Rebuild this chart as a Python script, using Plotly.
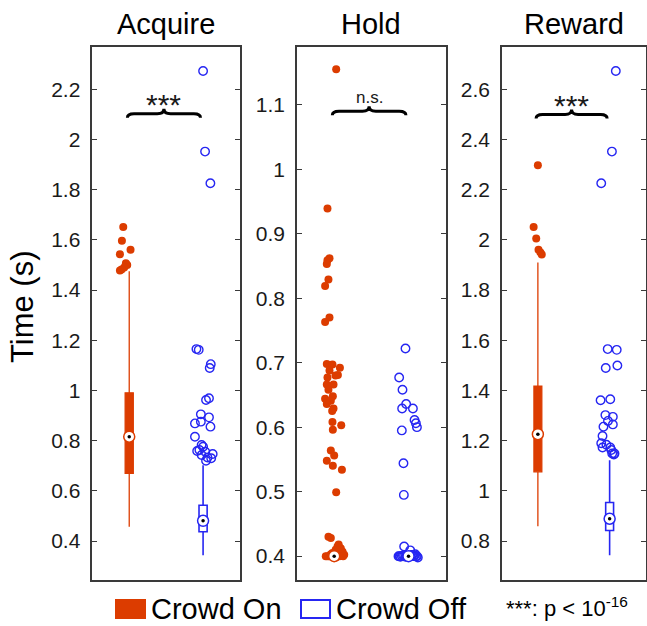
import plotly.graph_objects as go

W, H = 647, 626
ORANGE = "#DC3C00"
BLUE = "#2626F2"
FONT = "Liberation Sans, Arial, sans-serif"

# ---------------- data ----------------
panel_titles = ["Acquire", "Hold", "Reward"]
group_names = ["Crowd On", "Crowd Off"]
y_ranges = [[0.245, 2.37], [0.363, 1.19], [0.645, 2.77]]
y_dticks = [0.2, 0.1, 0.2]

# box statistics: [lower whisker, q1, median, q3, upper whisker]
on_stats = [[0.457, 0.670, 0.816, 0.991, 1.475],
            [0.400, 0.400, 0.400, 0.400, 0.400],
            [0.859, 1.076, 1.226, 1.417, 1.910]]
off_stats = [[0.344, 0.437, 0.481, 0.543, 0.702],
             [0.400, 0.400, 0.400, 0.400, 0.400],
             [0.744, 0.842, 0.889, 0.954, 1.122]]

# outliers (value, horizontal jitter)
acq_on_y = [1.652, 1.597, 1.543, 1.561, 1.507, 1.500, 1.490, 1.482, 1.478]
acq_on_dx = [-0.081, -0.099, -0.126, 0.018, -0.045, -0.027, -0.068, -0.104, -0.126]
acq_off_y = [2.273, 1.952, 1.826, 1.165, 1.162, 1.105, 1.090, 0.969, 0.962, 0.905,
             0.893, 0.876, 0.869, 0.856, 0.816, 0.783, 0.776, 0.763, 0.759, 0.756,
             0.747, 0.743, 0.733, 0.730, 0.720]
acq_off_dx = [0.0, 0.027, 0.099, -0.090, -0.059, 0.104, 0.090, 0.080, 0.040, -0.030,
              0.080, -0.030, -0.110, 0.100, -0.110, -0.020, 0.000, -0.050, -0.080, 0.030,
              0.130, -0.020, 0.060, 0.110, 0.040]

hold_on_y = [1.155, 0.939, 0.862, 0.859, 0.853, 0.829, 0.819, 0.770, 0.763, 0.698,
             0.697, 0.692, 0.688, 0.681, 0.680, 0.677, 0.666, 0.666, 0.658, 0.648,
             0.644, 0.641, 0.636, 0.629, 0.625, 0.608, 0.603, 0.596, 0.564, 0.556,
             0.548, 0.540, 0.534, 0.499, 0.430, 0.428, 0.415, 0.412, 0.407, 0.402,
             0.400, 0.400, 0.401, 0.398, 0.405, 0.410, 0.418, 0.413, 0.404, 0.400,
             0.400, 0.403, 0.409, 0.400]
hold_on_dx = [0.027, -0.090, -0.063, -0.090, -0.099, -0.077, -0.122, -0.063, -0.122, -0.099,
              -0.023, 0.077, -0.063, 0.050, 0.018, -0.090, -0.099, -0.009, -0.077, -0.018,
              -0.122, -0.045, -0.099, -0.009, -0.027, -0.023, 0.095, -0.018, -0.045, 0.000,
              -0.099, -0.018, 0.104, 0.027, -0.077, -0.045, 0.045, 0.090, 0.113, 0.135,
              -0.113, -0.068, 0.090, 0.023, -0.023, 0.020, 0.060, 0.075, 0.100, 0.120,
              -0.090, -0.045, 0.040, 0.070]
hold_off_y = [0.722, 0.677, 0.658, 0.636, 0.629, 0.629, 0.611, 0.606, 0.600, 0.595,
              0.544, 0.495, 0.415, 0.409, 0.400, 0.400, 0.401, 0.400, 0.400, 0.403,
              0.399, 0.402, 0.400, 0.401, 0.399, 0.400, 0.402, 0.400, 0.398, 0.401]
hold_off_dx = [-0.041, -0.126, -0.081, -0.032, -0.086, 0.059, 0.081, 0.099, 0.113, -0.090,
               -0.068, -0.063, -0.059, 0.023, -0.135, -0.090, -0.059, 0.068, 0.113, 0.090,
               -0.110, 0.045, -0.120, -0.075, -0.040, 0.030, 0.055, 0.100, 0.125, 0.080]

rew_on_y = [2.298, 2.052, 2.006, 1.961, 1.950, 1.942]
rew_on_dx = [0.0, -0.059, -0.023, 0.009, 0.036, 0.054]
rew_off_y = [2.673, 2.352, 2.226, 1.565, 1.562, 1.500, 1.490, 1.365, 1.361, 1.302,
             1.295, 1.279, 1.265, 1.256, 1.219, 1.190, 1.184, 1.173, 1.173, 1.163,
             1.149, 1.149, 1.145]
rew_off_dx = [0.086, 0.032, -0.117, -0.027, 0.099, 0.108, -0.054, 0.009, -0.126, -0.059,
              0.045, -0.023, 0.045, -0.086, -0.099, -0.117, -0.045, -0.099, 0.009, 0.023,
              0.036, 0.068, 0.059]

on_out_y = [acq_on_y, hold_on_y, rew_on_y]
on_out_dx = [acq_on_dx, hold_on_dx, rew_on_dx]
off_out_y = [acq_off_y, hold_off_y, rew_off_y]
off_out_dx = [acq_off_dx, hold_off_dx, rew_off_dx]

brace_levels = [2.103, 1.090, 2.500]
sig_labels = ["***", "n.s.", "***"]
footnote = "***: p < 10<sup>-16</sup>"

# ---------------- layout geometry (pixels) ----------------
panel_px = [(92.3, 240.0), (297.0, 445.7), (502.0, 645.5)]
top_px, bot_px = 46.7, 580.0
plot_h = bot_px - top_px


def px_x(p):
    return p / W


def px_y(p):
    return 1 - p / H


fig = go.Figure()
layout = dict(
    width=W, height=H, margin=dict(l=0, r=0, t=0, b=0),
    paper_bgcolor="white", plot_bgcolor="white", showlegend=False,
    font=dict(family=FONT, color="#1a1a1a"),
)
annotations = []
shapes = []

for i in range(3):
    k = "" if i == 0 else str(i + 1)
    xa, ya = "x" + k, "y" + k
    x0p, x1p = panel_px[i]
    layout["xaxis" + k] = dict(
        domain=[px_x(x0p), px_x(x1p)], range=[0.5, 2.5], anchor=ya,
        showline=True, mirror=True, linecolor="#3a3a3a", linewidth=1.5,
        showgrid=False, zeroline=False, showticklabels=False, ticks="",
        fixedrange=True,
    )
    layout["yaxis" + k] = dict(
        domain=[px_y(bot_px), px_y(top_px)], range=y_ranges[i], anchor=xa,
        showline=True, mirror="ticks", linecolor="#3a3a3a", linewidth=1.5,
        ticks="inside", ticklen=5, tickwidth=1, tickcolor="#3a3a3a",
        tick0=0, dtick=y_dticks[i], showgrid=False, zeroline=False,
        tickfont=dict(size=21, family=FONT, color="#1a1a1a"),
        ticklabelstandoff=6,
        fixedrange=True,
    )

    stats_list = [on_stats[i], off_stats[i]]
    for g, st in enumerate(stats_list):
        pos = g + 1
        lo, q1, med, q3, hi = st
        if g == 0:
            fig.add_trace(go.Box(
                x=[pos], lowerfence=[lo], q1=[q1], median=[med], q3=[q3], upperfence=[hi],
                width=0.11, whiskerwidth=0, fillcolor=ORANGE,
                line=dict(color=ORANGE, width=1.3), boxpoints=False,
                xaxis=xa, yaxis=ya, hoverinfo="skip"))
        else:
            fig.add_trace(go.Box(
                x=[pos], lowerfence=[lo], q1=[q1], median=[med], q3=[q3], upperfence=[hi],
                width=0.11, whiskerwidth=0, fillcolor="rgba(255,255,255,1)",
                line=dict(color=BLUE, width=1.6), boxpoints=False,
                xaxis=xa, yaxis=ya, hoverinfo="skip"))

    # outliers
    fig.add_trace(go.Scatter(
        x=[1 + d for d in on_out_dx[i]], y=on_out_y[i], mode="markers",
        marker=dict(symbol="circle", size=8, color=ORANGE, line=dict(width=0)),
        xaxis=xa, yaxis=ya, hoverinfo="skip"))
    fig.add_trace(go.Scatter(
        x=[2 + d for d in off_out_dx[i]], y=off_out_y[i], mode="markers",
        marker=dict(symbol="circle-open", size=8.5, color=BLUE, line=dict(width=1.4)),
        xaxis=xa, yaxis=ya, hoverinfo="skip"))

    # median markers
    for g, (st, col) in enumerate(zip(stats_list, [ORANGE, BLUE])):
        fig.add_trace(go.Scatter(
            x=[g + 1], y=[st[2]], mode="markers",
            marker=dict(symbol="circle", size=11, color="white", line=dict(color=col, width=1.5)),
            xaxis=xa, yaxis=ya, hoverinfo="skip"))
        fig.add_trace(go.Scatter(
            x=[g + 1], y=[st[2]], mode="markers",
            marker=dict(symbol="circle", size=3.5, color="black", line=dict(width=0)),
            xaxis=xa, yaxis=ya, hoverinfo="skip"))

    # significance brace
    ppu = plot_h / (y_ranges[i][1] - y_ranges[i][0])
    yb = brace_levels[i]
    hd = 4.0 / ppu
    td = 5.0 / ppu
    xa1, xa2 = 0.975, 1.965
    xm = (xa1 + xa2) / 2
    a = 0.09
    path = (f"M {xa1},{yb - hd} Q {xa1},{yb} {xa1 + a},{yb} L {xm - a},{yb} "
            f"Q {xm},{yb} {xm},{yb + td} Q {xm},{yb} {xm + a},{yb} "
            f"L {xa2 - a},{yb} Q {xa2},{yb} {xa2},{yb - hd}")
    shapes.append(dict(type="path", path=path, xref=xa, yref=ya,
                       line=dict(color="black", width=3)))
    if sig_labels[i] == "***":
        annotations.append(dict(x=xm, y=yb, xref=xa, yref=ya, text=sig_labels[i],
                                showarrow=False, xanchor="center", yanchor="middle", yshift=9,
                                font=dict(size=30, family=FONT, color="#1a1a1a")))
    else:
        annotations.append(dict(x=xm, y=yb, xref=xa, yref=ya, text=sig_labels[i],
                                showarrow=False, xanchor="center", yanchor="bottom", yshift=2,
                                font=dict(size=17, family=FONT, color="#1a1a1a")))

    # panel title
    annotations.append(dict(x=px_x((x0p + x1p) / 2), y=px_y(24), xref="paper", yref="paper",
                            text=panel_titles[i], showarrow=False,
                            xanchor="center", yanchor="middle",
                            font=dict(size=29, family=FONT, color="black")))

# y axis label
annotations.append(dict(x=px_x(22), y=px_y(307), xref="paper", yref="paper",
                        text="Time (s)", textangle=-90, showarrow=False,
                        xanchor="center", yanchor="middle",
                        font=dict(size=31, family=FONT, color="black")))

# custom legend
shapes.append(dict(type="rect", xref="paper", yref="paper",
                   x0=px_x(115), x1=px_x(146), y0=px_y(619), y1=px_y(599),
                   fillcolor=ORANGE, line=dict(width=0)))
shapes.append(dict(type="rect", xref="paper", yref="paper",
                   x0=px_x(301), x1=px_x(330), y0=px_y(618), y1=px_y(600),
                   fillcolor="white", line=dict(color=BLUE, width=2)))
annotations.append(dict(x=px_x(149), y=px_y(609), xref="paper", yref="paper",
                        text=group_names[0], showarrow=False, xanchor="left", yanchor="middle",
                        font=dict(size=29, family=FONT, color="black")))
annotations.append(dict(x=px_x(334), y=px_y(609), xref="paper", yref="paper",
                        text=group_names[1], showarrow=False, xanchor="left", yanchor="middle",
                        font=dict(size=29, family=FONT, color="black")))
annotations.append(dict(x=px_x(504), y=px_y(607), xref="paper", yref="paper",
                        text=footnote, showarrow=False, xanchor="left", yanchor="middle",
                        font=dict(size=22, family=FONT, color="black")))

layout["annotations"] = annotations
layout["shapes"] = shapes
layout["boxmode"] = "overlay"
fig.update_layout(**layout)

fig.write_html("out.html", config={"displayModeBar": False},
               post_script="document.body.style.margin='0';document.body.style.overflow='hidden';")
